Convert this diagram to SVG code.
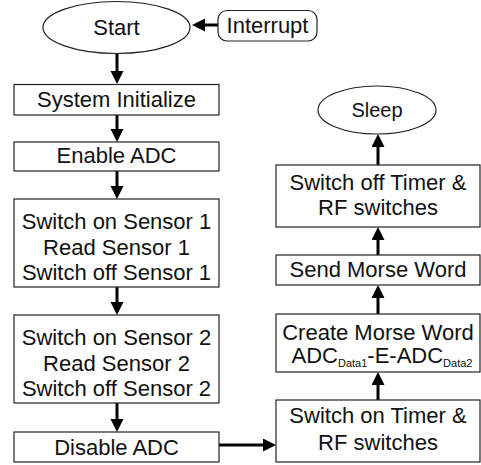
<svg xmlns="http://www.w3.org/2000/svg" width="481" height="465" viewBox="0 0 481 465">
<style>
  .box{fill:#fff;stroke:#222;stroke-width:1.2}
  .t{font-family:"Liberation Sans",Arial,sans-serif;font-size:22px;fill:#111;text-anchor:middle}
  .sub{font-size:11px}
  .c{stroke:#000;stroke-width:3;fill:none;marker-end:url(#ah)}
</style>
<defs>
  <marker id="ah" markerUnits="userSpaceOnUse" markerWidth="14" markerHeight="14" refX="3" refY="6.5" orient="auto">
    <path d="M0,0 L13,6.5 L0,13 z" fill="#000"/>
  </marker>
</defs>
<rect width="481" height="465" fill="#fff"/>
<g id="connectors">
  <line class="c" x1="218" y1="25" x2="202" y2="25"/>
  <line class="c" x1="117" y1="53" x2="117" y2="74"/>
  <line class="c" x1="117" y1="115" x2="117" y2="132"/>
  <line class="c" x1="117" y1="171" x2="117" y2="189"/>
  <line class="c" x1="117" y1="287" x2="117" y2="305"/>
  <line class="c" x1="117" y1="403" x2="117" y2="422"/>
  <line class="c" x1="218" y1="445" x2="266" y2="445"/>
  <line class="c" x1="378" y1="400" x2="378" y2="382"/>
  <line class="c" x1="378" y1="314" x2="378" y2="295"/>
  <line class="c" x1="378" y1="255" x2="378" y2="237"/>
  <line class="c" x1="378" y1="165" x2="378" y2="144"/>
</g>
<g id="start">
  <ellipse class="box" cx="116.5" cy="27.5" rx="73.5" ry="26"/>
  <text class="t" x="116.5" y="35">Start</text>
</g>
<g id="interrupt">
  <rect class="box" x="218" y="10.5" width="99" height="30.5" rx="9"/>
  <text class="t" x="267.5" y="33">Interrupt</text>
</g>
<g id="sysinit">
  <rect class="box" x="14" y="84.5" width="205" height="30.5"/>
  <text class="t" x="116.5" y="107">System Initialize</text>
</g>
<g id="enableadc">
  <rect class="box" x="14" y="142" width="205" height="29"/>
  <text class="t" x="116.5" y="163">Enable ADC</text>
</g>
<g id="sensor1">
  <rect class="box" x="14" y="199" width="205" height="88"/>
  <text class="t" x="116.5" y="229">Switch on Sensor 1</text>
  <text class="t" x="116.5" y="254.5">Read Sensor 1</text>
  <text class="t" x="116.5" y="280">Switch off Sensor 1</text>
</g>
<g id="sensor2">
  <rect class="box" x="14" y="315" width="205" height="88"/>
  <text class="t" x="116.5" y="345">Switch on Sensor 2</text>
  <text class="t" x="116.5" y="370.5">Read Sensor 2</text>
  <text class="t" x="116.5" y="396">Switch off Sensor 2</text>
</g>
<g id="disableadc">
  <rect class="box" x="14" y="432" width="205" height="30"/>
  <text class="t" x="116.5" y="455">Disable ADC</text>
</g>
<g id="switchon">
  <rect class="box" x="276" y="400" width="204" height="62"/>
  <text class="t" x="378" y="423">Switch on Timer &amp;</text>
  <text class="t" x="378" y="450">RF switches</text>
</g>
<g id="createmorse">
  <rect class="box" x="276" y="314" width="204" height="58"/>
  <text class="t" x="378" y="340">Create Morse Word</text>
  <text class="t" x="382" y="363">ADC<tspan class="sub" dy="4">Data1</tspan><tspan dy="-4">-E-ADC</tspan><tspan class="sub" dy="4">Data2</tspan></text>
</g>
<g id="sendmorse">
  <rect class="box" x="276" y="255" width="204" height="30"/>
  <text class="t" x="378" y="277">Send Morse Word</text>
</g>
<g id="switchoff">
  <rect class="box" x="276" y="165" width="204" height="62"/>
  <text class="t" x="378" y="190">Switch off Timer &amp;</text>
  <text class="t" x="378" y="215">RF switches</text>
</g>
<g id="sleep">
  <ellipse class="box" cx="377" cy="110" rx="59" ry="24"/>
  <text class="t" x="377" y="117" style="font-size:20px">Sleep</text>
</g>
</svg>
